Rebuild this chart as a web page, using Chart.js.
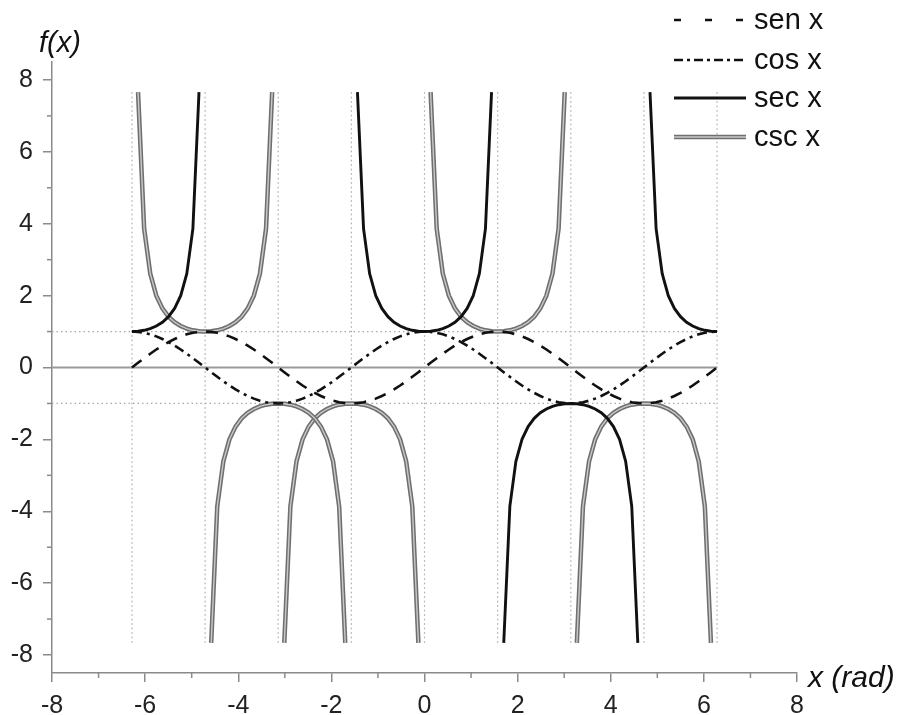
<!DOCTYPE html>
<html>
<head>
<meta charset="utf-8">
<script src="https://cdn.jsdelivr.net/npm/chart.js@4.4.0/dist/chart.umd.min.js"></script>
<style>
  body { margin: 0; background: #fff; }
</style>
</head>
<body>
<canvas id="myChart" width="898" height="715"></canvas>
<script>
// x in rad, sampled every pi/24 from -2pi to 2pi
const xVals = [
  -6.283, -6.152, -6.021, -5.890, -5.760, -5.629, -5.498, -5.367, -5.236, -5.105, -4.974, -4.843,
  -4.712, -4.581, -4.451, -4.320, -4.189, -4.058, -3.927, -3.796, -3.665, -3.534, -3.403, -3.272,
  -3.142, -3.011, -2.880, -2.749, -2.618, -2.487, -2.356, -2.225, -2.094, -1.963, -1.833, -1.702,
  -1.571, -1.440, -1.309, -1.178, -1.047, -0.916, -0.785, -0.654, -0.524, -0.393, -0.262, -0.131,
  0, 0.131, 0.262, 0.393, 0.524, 0.654, 0.785, 0.916, 1.047, 1.178, 1.309, 1.440,
  1.571, 1.702, 1.833, 1.963, 2.094, 2.225, 2.356, 2.487, 2.618, 2.749, 2.880, 3.011,
  3.142, 3.272, 3.403, 3.534, 3.665, 3.796, 3.927, 4.058, 4.189, 4.320, 4.451, 4.581,
  4.712, 4.843, 4.974, 5.105, 5.236, 5.367, 5.498, 5.629, 5.760, 5.890, 6.021, 6.152,
  6.283
];

const senY = [
  0, .131, .259, .383, .5, .609, .707, .793, .866, .924, .966, .991,
  1, .991, .966, .924, .866, .793, .707, .609, .5, .383, .259, .131,
  0, -.131, -.259, -.383, -.5, -.609, -.707, -.793, -.866, -.924, -.966, -.991,
  -1, -.991, -.966, -.924, -.866, -.793, -.707, -.609, -.5, -.383, -.259, -.131,
  0, .131, .259, .383, .5, .609, .707, .793, .866, .924, .966, .991,
  1, .991, .966, .924, .866, .793, .707, .609, .5, .383, .259, .131,
  0, -.131, -.259, -.383, -.5, -.609, -.707, -.793, -.866, -.924, -.966, -.991,
  -1, -.991, -.966, -.924, -.866, -.793, -.707, -.609, -.5, -.383, -.259, -.131,
  0
];

const cosY = [
  1, .991, .966, .924, .866, .793, .707, .609, .5, .383, .259, .131,
  0, -.131, -.259, -.383, -.5, -.609, -.707, -.793, -.866, -.924, -.966, -.991,
  -1, -.991, -.966, -.924, -.866, -.793, -.707, -.609, -.5, -.383, -.259, -.131,
  0, .131, .259, .383, .5, .609, .707, .793, .866, .924, .966, .991,
  1, .991, .966, .924, .866, .793, .707, .609, .5, .383, .259, .131,
  0, -.131, -.259, -.383, -.5, -.609, -.707, -.793, -.866, -.924, -.966, -.991,
  -1, -.991, -.966, -.924, -.866, -.793, -.707, -.609, -.5, -.383, -.259, -.131,
  0, .131, .259, .383, .5, .609, .707, .793, .866, .924, .966, .991,
  1
];

const secY = [
  1, 1.009, 1.035, 1.082, 1.155, 1.26, 1.414, 1.643, 2, 2.613, 3.864, 7.661,
  null, -7.661, -3.864, -2.613, -2, -1.643, -1.414, -1.26, -1.155, -1.082, -1.035, -1.009,
  -1, -1.009, -1.035, -1.082, -1.155, -1.26, -1.414, -1.643, -2, -2.613, -3.864, -7.661,
  null, 7.661, 3.864, 2.613, 2, 1.643, 1.414, 1.26, 1.155, 1.082, 1.035, 1.009,
  1, 1.009, 1.035, 1.082, 1.155, 1.26, 1.414, 1.643, 2, 2.613, 3.864, 7.661,
  null, -7.661, -3.864, -2.613, -2, -1.643, -1.414, -1.26, -1.155, -1.082, -1.035, -1.009,
  -1, -1.009, -1.035, -1.082, -1.155, -1.26, -1.414, -1.643, -2, -2.613, -3.864, -7.661,
  null, 7.661, 3.864, 2.613, 2, 1.643, 1.414, 1.26, 1.155, 1.082, 1.035, 1.009,
  1
];

const cscY = [
  null, 7.661, 3.864, 2.613, 2, 1.643, 1.414, 1.26, 1.155, 1.082, 1.035, 1.009,
  1, 1.009, 1.035, 1.082, 1.155, 1.26, 1.414, 1.643, 2, 2.613, 3.864, 7.661,
  null, -7.661, -3.864, -2.613, -2, -1.643, -1.414, -1.26, -1.155, -1.082, -1.035, -1.009,
  -1, -1.009, -1.035, -1.082, -1.155, -1.26, -1.414, -1.643, -2, -2.613, -3.864, -7.661,
  null, 7.661, 3.864, 2.613, 2, 1.643, 1.414, 1.26, 1.155, 1.082, 1.035, 1.009,
  1, 1.009, 1.035, 1.082, 1.155, 1.26, 1.414, 1.643, 2, 2.613, 3.864, 7.661,
  null, -7.661, -3.864, -2.613, -2, -1.643, -1.414, -1.26, -1.155, -1.082, -1.035, -1.009,
  -1, -1.009, -1.035, -1.082, -1.155, -1.26, -1.414, -1.643, -2, -2.613, -3.864, -7.661,
  null
];

const xTicks = [-8, -6, -4, -2, 0, 2, 4, 6, 8];
const yTicks = [-8, -6, -4, -2, 0, 2, 4, 6, 8];
const minorTicks = [-7, -5, -3, -1, 1, 3, 5, 7];

// multiples of pi/2 (dotted guides) and the +-1 guides
const asymX = [-6.283, -4.712, -3.142, -1.571, 0, 1.571, 3.142, 4.712, 6.283];
const guideTop = 7.661;
const guideY = [-1, 1];
// in the original the sec branch between -3pi/2 and -pi/2 is drawn in the csc style
const secGrayRange = [-4.712, -1.571];

const black = '#111';
const grayOuter = '#6f6f6f';
const grayInner = '#c9c9c9';
const axisColor = '#8a8a8a';
const tickFont = { family: "'Liberation Sans', Arial, sans-serif", size: 25 };

function pts(ys) {
  return xVals.map((x, i) => ({ x: x, y: ys[i] }));
}

const dotted = [];
asymX.forEach(v => {
  dotted.push({ x: v, y: -guideTop }, { x: v, y: guideTop }, { x: v, y: null });
});
guideY.forEach(v => {
  dotted.push({ x: -8, y: v }, { x: asymX[asymX.length - 1], y: v }, { x: -8, y: null });
});

const inGray = c => c.p0.parsed.x > secGrayRange[0] && c.p1.parsed.x < secGrayRange[1];
const secInner = xVals.map((x, i) => ({ x: x, y: (x > secGrayRange[0] && x < secGrayRange[1]) ? secY[i] : null }));

const datasets = [
  { label: 'sen x', data: pts(senY), borderColor: black, borderWidth: 2.6, borderDash: [12, 9], order: 1,
    legendDash: [7, 24] },
  { label: 'cos x', data: pts(cosY), borderColor: black, borderWidth: 2.6, borderDash: [10, 5, 3, 5], order: 1,
    legendDash: [9, 4, 3, 4] },
  { label: 'sec x', data: pts(secY), borderColor: black, borderWidth: 2.9, order: 3,
    segment: {
      borderColor: c => inGray(c) ? grayOuter : black,
      borderWidth: c => inGray(c) ? 4.5 : 2.9
    } },
  { label: 'csc x', data: pts(cscY), borderColor: grayOuter, borderWidth: 4.5, order: 5, inner: true },
  { label: '', data: pts(cscY), borderColor: grayInner, borderWidth: 1.4, order: 4, noLegend: true },
  { label: '', data: secInner, borderColor: grayInner, borderWidth: 1.4, order: 2, noLegend: true },
  { label: '', data: [{ x: -8, y: 0 }, { x: asymX[asymX.length - 1], y: 0 }], borderColor: '#9a9a9a',
    borderWidth: 2, order: 9, noLegend: true },
  { label: '', data: dotted, borderColor: '#a8a8a8', borderWidth: 1.2, borderDash: [1.5, 3], order: 10, noLegend: true }
];

datasets.forEach(d => {
  d.pointRadius = 0;
  d.fill = false;
  d.tension = 0;
  d.spanGaps = false;
});

// minor ticks, axis titles and the legend
const extras = {
  id: 'extras',
  afterDraw(chart) {
    const { ctx, scales: { x, y } } = chart;
    ctx.save();
    ctx.strokeStyle = axisColor;
    ctx.lineWidth = 1.5;
    minorTicks.forEach(v => {
      const px = x.getPixelForValue(v);
      ctx.beginPath(); ctx.moveTo(px, y.bottom); ctx.lineTo(px, y.bottom + 5); ctx.stroke();
      const py = y.getPixelForValue(v);
      ctx.beginPath(); ctx.moveTo(x.left, py); ctx.lineTo(x.left - 5, py); ctx.stroke();
    });

    ctx.fillStyle = '#111';
    ctx.font = "italic 29px 'Liberation Sans', Arial, sans-serif";
    ctx.textBaseline = 'alphabetic';
    ctx.textAlign = 'left';
    ctx.fillText('f(x)', 39, 52);
    ctx.font = "italic 30px 'Liberation Sans', Arial, sans-serif";
    ctx.fillText('x (rad)', 808, 687);

    // legend
    const rowsY = [20, 60, 98, 137];
    const x0 = 674, x1 = 746;
    let r = 0;
    chart.data.datasets.forEach(d => {
      if (d.noLegend) return;
      const ly = rowsY[r++];
      ctx.save();
      ctx.strokeStyle = d.borderColor;
      ctx.lineWidth = d.borderWidth;
      ctx.setLineDash(d.legendDash || []);
      ctx.beginPath(); ctx.moveTo(x0, ly); ctx.lineTo(x1, ly); ctx.stroke();
      if (d.inner) {
        ctx.strokeStyle = grayInner;
        ctx.lineWidth = 1.4;
        ctx.beginPath(); ctx.moveTo(x0, ly); ctx.lineTo(x1, ly); ctx.stroke();
      }
      ctx.restore();
      ctx.fillStyle = '#111';
      ctx.font = "29px 'Liberation Sans', Arial, sans-serif";
      ctx.textBaseline = 'middle';
      ctx.fillText(d.label, 754, ly + 1);
    });
    ctx.restore();
  }
};

const ctx = document.getElementById('myChart').getContext('2d');
const myChart = new Chart(ctx, {
  type: 'line',
  data: { datasets: datasets },
  options: {
    responsive: false,
    animation: false,
    layout: { padding: { top: 62, right: 101, left: 0, bottom: 0 } },
    plugins: { legend: { display: false }, tooltip: { enabled: false } },
    scales: {
      x: {
        type: 'linear', min: -8, max: 8,
        afterFit: s => { s.height = 42; },
        afterBuildTicks: s => { s.ticks = xTicks.map(v => ({ value: v })); },
        grid: { drawOnChartArea: false, tickLength: 9, color: axisColor, lineWidth: 1.5 },
        border: { color: axisColor, width: 1.5 },
        ticks: { font: tickFont, color: '#222', padding: 9, maxRotation: 0, autoSkip: false }
      },
      y: {
        type: 'linear', min: -8.5, max: 8.5,
        afterFit: s => { s.width = 52; },
        afterBuildTicks: s => { s.ticks = yTicks.map(v => ({ value: v })); },
        grid: { drawOnChartArea: false, tickLength: 9, color: axisColor, lineWidth: 1.5 },
        border: { color: axisColor, width: 1.5 },
        ticks: { font: tickFont, color: '#222', padding: 10, autoSkip: false }
      }
    }
  },
  plugins: [extras]
});
</script>
</body>
</html>
